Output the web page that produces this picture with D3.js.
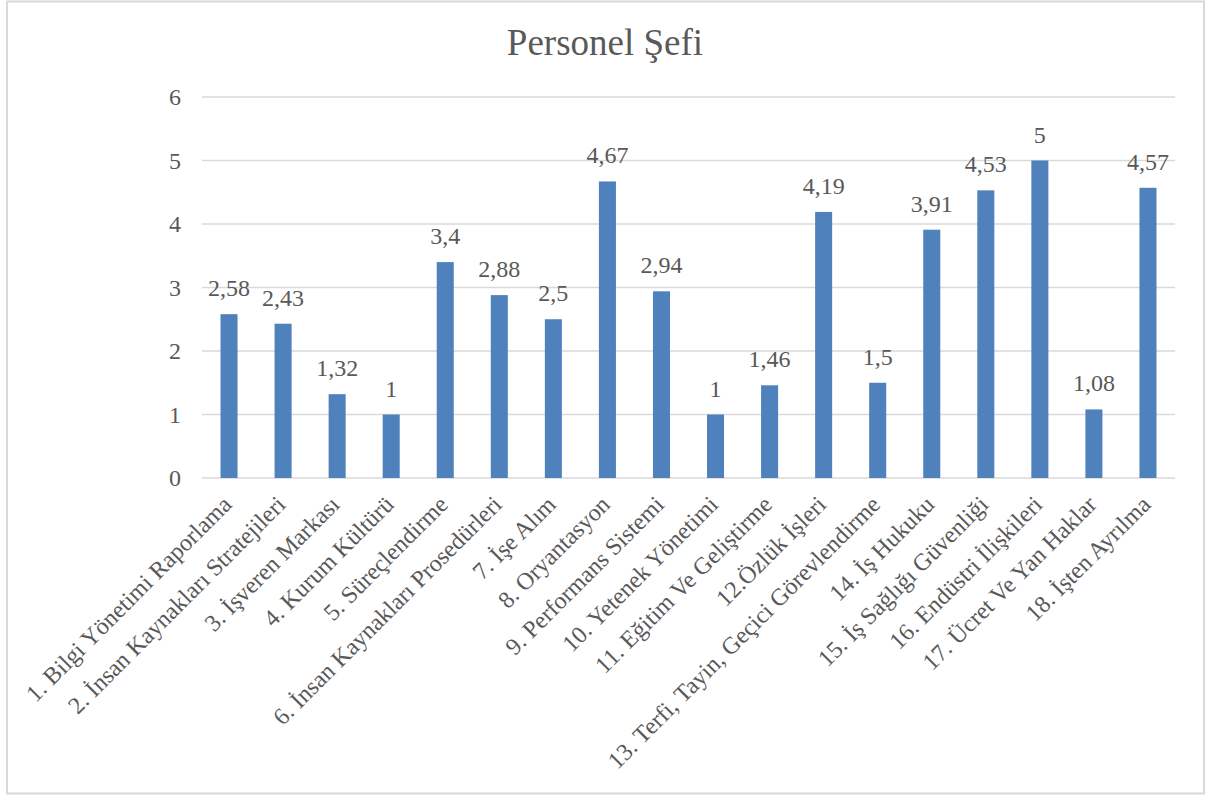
<!DOCTYPE html>
<html>
<head>
<meta charset="utf-8">
<script src="https://cdn.jsdelivr.net/npm/d3@7"></script>
<style>
  body { margin: 0; background: #fff; }
  text { font-family: "Liberation Serif", "Times New Roman", serif; fill: #595959; }
</style>
</head>
<body>
<div id="chart"></div>
<script>
// Data
var categories = [
  "1. Bilgi Yönetimi Raporlama",
  "2. İnsan Kaynakları Stratejileri",
  "3. İşveren Markası",
  "4. Kurum Kültürü",
  "5. Süreçlendirme",
  "6. İnsan Kaynakları Prosedürleri",
  "7. İşe Alım",
  "8. Oryantasyon",
  "9. Performans Sistemi",
  "10. Yetenek Yönetimi",
  "11. Eğitim Ve Geliştirme",
  "12.Özlük İşleri",
  "13. Terfi, Tayin, Geçici Görevlendirme",
  "14. İş Hukuku",
  "15. İş Sağlığı Güvenliği",
  "16. Endüstri İlişkileri",
  "17. Ücret Ve Yan Haklar",
  "18. İşten Ayrılma"
];
var values = [2.58, 2.43, 1.32, 1, 3.4, 2.88, 2.5, 4.67, 2.94, 1, 1.46, 4.19, 1.5, 3.91, 4.53, 5, 1.08, 4.57];
var yTicks = [0, 1, 2, 3, 4, 5, 6];
var title = "Personel Şefi";

var W = 1217, H = 798;
var margin = {top: 97, right: 42, bottom: 320, left: 202},
    width = W - margin.left - margin.right,
    height = H - margin.top - margin.bottom;

var svg = d3.select("#chart").append("svg")
  .attr("width", W).attr("height", H);

// outer frame
svg.append("rect")
  .attr("x", 7).attr("y", 1.5)
  .attr("width", 1197).attr("height", 792)
  .attr("fill", "#fff").attr("stroke", "#d9d9d9").attr("stroke-width", 2);

svg.append("text")
  .attr("x", 605).attr("y", 55)
  .attr("text-anchor", "middle")
  .style("font-size", "37px")
  .text(title);

var g = svg.append("g")
  .attr("transform", "translate(" + margin.left + "," + margin.top + ")");

var x = d3.scaleBand().domain(categories).range([0, width]).paddingInner(0.685).paddingOuter(0.3425);
var y = d3.scaleLinear().domain([0, 6]).range([height, 0]);

// gridlines
g.selectAll(".grid").data(yTicks).enter().append("line")
  .attr("x1", 0).attr("x2", width)
  .attr("y1", function(d) { return y(d); })
  .attr("y2", function(d) { return y(d); })
  .attr("stroke", "#d9d9d9").attr("stroke-width", 1.5);

// y axis labels
var yAxis = g.append("g").call(d3.axisLeft(y).tickValues(yTicks).tickFormat(d3.format("d")).tickSize(0).tickPadding(21));
yAxis.select(".domain").remove();
yAxis.selectAll("text")
  .style("font-size", "24px")
  .style("font-family", "Liberation Serif, serif")
  .attr("fill", "#595959");

// bars
g.selectAll(".bar").data(values).enter().append("rect")
  .attr("x", function(d, i) { return x(categories[i]); })
  .attr("y", function(d) { return y(d); })
  .attr("width", x.bandwidth())
  .attr("height", function(d) { return height - y(d); })
  .attr("fill", "#4f81bd");

// value labels
g.selectAll(".val").data(values).enter().append("text")
  .attr("x", function(d, i) { return x(categories[i]) + x.bandwidth() / 2; })
  .attr("y", function(d) { return y(d) - 18; })
  .attr("text-anchor", "middle")
  .style("font-size", "24px")
  .text(function(d) { return String(d).replace(".", ","); });

// category labels
g.selectAll(".cat").data(categories).enter().append("text")
  .attr("transform", function(d) {
    return "translate(" + (x(d) + x.bandwidth() / 2 - 2) + "," + (height + 22) + ") rotate(-45)";
  })
  .attr("text-anchor", "end")
  .attr("dy", "0.35em")
  .style("font-size", "24px")
  .text(function(d) { return d; });
</script>
</body>
</html>
